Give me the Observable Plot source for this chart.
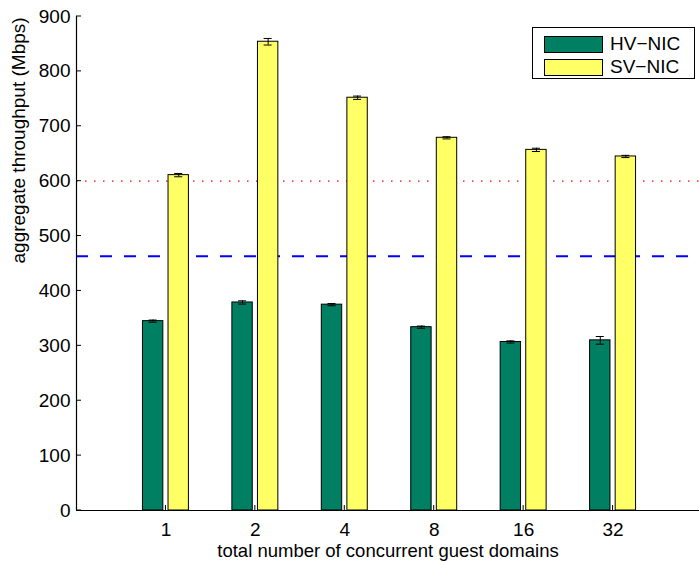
<!DOCTYPE html>
<html>
<head>
<meta charset="utf-8">
<script src="https://cdn.jsdelivr.net/npm/d3@7"></script>
<script src="https://cdn.jsdelivr.net/npm/@observablehq/plot@0.6"></script>
<style>
  html, body { margin: 0; padding: 0; background: #fff; }
  #wrap { position: relative; width: 699px; height: 561px; overflow: hidden; font-family: "Liberation Sans", Arial, sans-serif; }
  #legend { position: absolute; left: 532px; top: 27px; width: 163px; height: 52px; border: 1px solid #000; background: #fff; box-sizing: border-box; }
  .li { position: absolute; left: 11px; display: flex; align-items: center; font-size: 19px; color: #000; }
  .sw { width: 59px; height: 17px; border: 1px solid #000; box-sizing: border-box; margin-right: 7px; }
</style>
</head>
<body>
<div id="wrap"></div>
<script>
// Data
const categories = ["1", "2", "4", "8", "16", "32"];
const series = ["HV\u2212NIC", "SV\u2212NIC"];
const hvValues = [345, 379, 375, 334, 307, 310];
const hvErr = [2, 3, 2, 2, 2, 7];
const svValues = [611, 854, 752, 679, 657, 645];
const svErr = [3, 6, 3, 2, 3, 2];
const yTicks = [0, 100, 200, 300, 400, 500, 600, 700, 800, 900];
const refRed = 600;
const refBlue = 463;
const colors = ["#007F62", "#FFFF66"];

const offset = 0.143, halfW = 0.114, capW = 0.045;
const rows = [];
categories.forEach((c, i) => {
  rows.push({cat: c, idx: i + 1, series: series[0], value: hvValues[i], err: hvErr[i], pos: i + 1 - offset});
  rows.push({cat: c, idx: i + 1, series: series[1], value: svValues[i], err: svErr[i], pos: i + 1 + offset});
});

const chart = Plot.plot({
  width: 699,
  height: 561,
  marginLeft: 76,
  marginRight: 0,
  marginTop: 16,
  marginBottom: 51,
  style: {fontFamily: "'Liberation Sans', Arial, sans-serif", background: "#fff", overflow: "hidden"},
  x: {type: "linear", domain: [0, 7], range: [76, 702]},
  y: {type: "linear", domain: [0, 900], range: [510, 16]},
  color: {domain: series, range: colors},
  marks: [
    Plot.ruleY([refRed], {y: d => d, stroke: "#ff0000", strokeWidth: 1.2, strokeDasharray: "1.5,7.5"}),
    Plot.ruleY([refBlue], {y: d => d, stroke: "#0000ff", strokeWidth: 2, strokeDasharray: "12,12"}),
    Plot.rect(rows, {x1: d => d.pos - halfW, x2: d => d.pos + halfW, y1: d => 0, y2: "value", fill: "series", stroke: "#000", strokeWidth: 1}),
    Plot.ruleX(rows, {x: "pos", y1: d => d.value - d.err, y2: d => d.value + d.err, stroke: "#000", strokeWidth: 1}),
    Plot.ruleY(rows, {y: d => d.value + d.err, x1: d => d.pos - capW, x2: d => d.pos + capW, stroke: "#000", strokeWidth: 1}),
    Plot.ruleY(rows, {y: d => d.value - d.err, x1: d => d.pos - capW, x2: d => d.pos + capW, stroke: "#000", strokeWidth: 1}),
    Plot.axisY({ticks: yTicks, tickSize: 0, tickPadding: 6, fontSize: 19, label: null}),
    Plot.axisX({ticks: categories.map((c, i) => i + 1), tickFormat: d => categories[d - 1], tickSize: 0, tickPadding: 12, fontSize: 19, label: null}),
    Plot.ruleY([0], {y: d => d, stroke: "#000", strokeWidth: 1.2}),
    Plot.ruleX([0], {x: d => d, stroke: "#000", strokeWidth: 1.2}),
    Plot.text(["total number of concurrent guest domains"], {text: d => d, frameAnchor: "bottom", lineAnchor: "bottom", dy: 46, fontSize: 18.5, fill: "#000"}),
    Plot.text(["aggregate throughput (Mbps)"], {text: d => d, frameAnchor: "left", dx: -58, rotate: -90, fontSize: 19, fill: "#000"})
  ]
});
document.getElementById("wrap").appendChild(chart);

// inward tick marks drawn with the chart's own scales
const sx = chart.scale("x"), sy = chart.scale("y");
const svg = d3.select(chart);
const g = svg.append("g").attr("stroke", "#000").attr("stroke-width", 1);
yTicks.forEach(t => {
  const yy = sy.apply(t);
  g.append("line").attr("x1", sx.apply(0)).attr("x2", sx.apply(0) + 5).attr("y1", yy).attr("y2", yy);
});
categories.forEach((c, i) => {
  const xx = sx.apply(i + 1);
  g.append("line").attr("x1", xx).attr("x2", xx).attr("y1", sy.apply(0)).attr("y2", sy.apply(0) - 5);
});

// legend
const leg = document.createElement("div");
leg.id = "legend";
series.forEach((s, i) => {
  const item = document.createElement("div");
  item.className = "li";
  item.style.top = (i === 0 ? 5 : 28) + "px";
  const sw = document.createElement("div");
  sw.className = "sw";
  sw.style.background = colors[i];
  item.appendChild(sw);
  const t = document.createElement("span");
  t.textContent = s;
  item.appendChild(t);
  leg.appendChild(item);
});
document.getElementById("wrap").appendChild(leg);
</script>
</body>
</html>
